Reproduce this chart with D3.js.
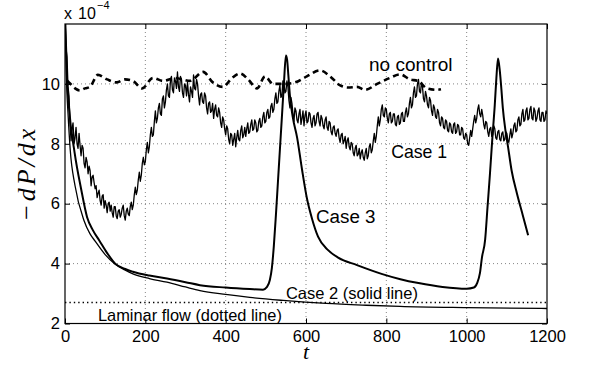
<!DOCTYPE html>
<html>
<head>
<meta charset="utf-8">
<script src="https://cdn.jsdelivr.net/npm/d3@7/dist/d3.min.js"></script>
<style>
  body { margin: 0; background: #fff; }
  svg text { font-family: "Liberation Sans", Arial, sans-serif; fill: #000; }
</style>
</head>
<body>
<div id="chart"></div>
<script>
// tick values
const xTicks = [0, 200, 400, 600, 800, 1000, 1200];
const yTicks = [2, 4, 6, 8, 10];
const gridX = [200, 400, 600, 800, 1000];
const gridY = [4, 6, 8, 10];

// laminar flow level (dotted)
const laminar = 2.7;

// no control (dashed), [t, value]
const noControl = [
  [5, 10.1], [10, 10.05], [25, 9.85], [37, 9.78], [50, 9.85], [62, 9.9], [82, 10.3],
  [105, 10.15], [129, 10.05], [149, 10.15], [169, 10.1], [192, 9.85], [219, 10.2],
  [244, 10.1], [274, 10.2], [311, 10.1], [344, 10.4], [368, 10.05], [393, 9.9],
  [416, 10.2], [436, 10.35], [456, 10.15], [478, 9.85], [498, 10.25], [518, 10.0],
  [548, 10.0], [573, 10.05], [602, 10.25], [635, 10.45], [660, 10.25], [685, 9.95],
  [705, 9.88], [727, 9.9], [747, 9.8], [777, 10.0], [809, 10.2], [834, 10.32],
  [859, 10.15], [879, 10.1], [901, 9.85], [926, 9.8], [936, 9.82]
];

// case 1 (noisy), sampled every 2.5 time units from t = 0
const case1Step = 2.5;
const case1 = [
  12.3, 11.2, 10.9, 9.9, 9.6, 8.7, 8.1, 8.5, 8.7, 8.0, 8.2, 8.55, 8.0, 7.85, 8.35, 7.95, 7.6, 7.95, 7.85, 7.35,
  7.2, 7.55, 7.4, 7.0, 7.25, 7.1, 6.6, 6.9, 6.95, 6.7, 6.5, 6.6, 6.2, 6.35, 6.45, 6.1, 5.95, 6.25, 6.3, 5.85,
  6.1, 5.95, 5.7, 6.0, 6.05, 5.75, 5.95, 5.7, 5.55, 5.9, 5.9, 5.6, 5.5, 5.75, 5.8, 5.55, 5.65, 5.85, 5.95, 5.6,
  5.45, 5.75, 5.85, 5.65, 5.6, 5.9, 6.05, 5.8, 5.95, 6.3, 6.55, 6.3, 6.45, 6.8, 7.05, 6.75, 6.95, 7.35, 7.55, 7.3,
  7.4, 7.8, 8.05, 7.7, 7.9, 8.3, 8.55, 8.25, 8.3, 8.75, 9.1, 8.7, 8.85, 9.2, 9.35, 9.0, 8.95, 9.5, 9.6, 9.2,
  9.4, 9.8, 10.0, 9.6, 9.55, 10.1, 10.25, 9.8, 9.7, 10.2, 10.1, 9.85, 10.4, 9.9, 9.75, 10.25, 10.15, 9.7, 9.55, 10.0,
  9.95, 9.6, 10.05, 9.65, 9.4, 9.9, 9.75, 9.55, 10.3, 9.85, 9.8, 10.15, 10.0, 9.6, 9.3, 9.65, 9.7, 9.4, 9.35, 9.7,
  9.6, 9.2, 9.0, 9.35, 9.4, 9.05, 9.1, 9.35, 8.85, 9.15, 9.3, 8.95, 8.9, 9.2, 9.05, 8.7, 8.55, 8.9, 8.8, 8.5,
  8.3, 8.6, 8.5, 8.15, 8.0, 8.35, 8.3, 7.95, 8.15, 8.35, 7.9, 8.2, 8.45, 8.15, 8.1, 8.45, 8.6, 8.2, 8.3, 8.55,
  8.25, 8.5, 8.7, 8.35, 8.4, 8.65, 8.8, 8.45, 8.5, 8.8, 8.7, 8.4, 8.45, 8.75, 8.85, 8.55, 8.6, 8.9, 9.05, 8.7,
  8.75, 9.05, 9.15, 8.85, 8.9, 9.25, 9.35, 9.05, 9.15, 9.5, 9.7, 9.35, 9.4, 9.75, 9.95, 9.55, 9.6, 10.1, 10.05, 9.7,
  9.75, 10.1, 9.9, 9.45, 9.2, 9.55, 9.35, 9.0, 8.75, 9.2, 9.1, 8.8, 8.7, 9.0, 9.15, 8.65, 8.85, 9.1, 8.6, 8.95,
  9.1, 8.7, 8.75, 9.05, 9.0, 8.7, 8.55, 8.85, 8.95, 8.6, 8.7, 9.0, 9.05, 8.75, 8.6, 8.95, 8.85, 8.6, 8.5, 8.8,
  8.9, 8.55, 8.45, 8.75, 8.7, 8.4, 8.3, 8.55, 8.6, 8.35, 8.25, 8.45, 8.5, 8.2, 8.05, 8.3, 8.35, 8.0, 8.1, 8.25,
  7.85, 8.1, 8.2, 7.9, 7.8, 8.05, 8.0, 7.7, 7.6, 7.85, 7.95, 7.6, 7.65, 7.85, 7.5, 7.7, 7.8, 7.55, 7.45, 7.7,
  7.85, 7.5, 7.6, 7.9, 8.0, 7.7, 7.8, 8.1, 8.35, 8.05, 8.25, 8.6, 8.9, 8.6, 8.8, 9.15, 9.3, 8.95, 8.9, 9.2,
  9.15, 8.85, 8.7, 9.0, 9.05, 8.7, 8.75, 9.0, 9.0, 8.65, 8.6, 8.9, 8.95, 8.65, 8.7, 9.0, 9.05, 8.75, 8.75, 9.05,
  9.2, 8.9, 9.0, 9.35, 9.55, 9.2, 9.3, 9.7, 9.9, 9.55, 9.6, 10.0, 10.15, 9.75, 9.7, 10.05, 9.9, 9.5, 9.4, 9.75,
  9.6, 9.3, 9.2, 9.55, 9.45, 9.1, 8.95, 9.3, 9.2, 8.9, 8.85, 9.15, 9.05, 8.7, 8.6, 8.9, 8.85, 8.55, 8.5, 8.8,
  8.75, 8.45, 8.4, 8.7, 8.65, 8.4, 8.35, 8.65, 8.7, 8.35, 8.4, 8.65, 8.6, 8.3, 8.3, 8.55, 8.5, 8.2, 8.15, 8.35,
  8.3, 8.0, 7.95, 8.2, 8.45, 8.25, 8.5, 8.75, 8.95, 8.7, 8.85, 9.15, 9.3, 9.0, 8.9, 9.15, 8.95, 8.65, 8.5, 8.75,
  8.7, 8.4, 8.25, 8.5, 8.55, 8.25, 8.3, 8.6, 8.5, 8.2, 8.15, 8.4, 8.45, 8.15, 8.1, 8.35, 8.4, 8.1, 8.15, 8.4,
  8.35, 8.1, 8.05, 8.3, 8.5, 8.2, 8.35, 8.6, 8.7, 8.4, 8.45, 8.8, 8.9, 8.6, 8.65, 9.0, 9.15, 8.75, 8.8, 9.1,
  9.2, 8.8, 8.85, 9.15, 9.25, 8.85, 8.8, 9.2, 9.1, 8.75, 8.85, 9.1, 9.2, 8.8, 8.75, 9.05, 9.05, 8.75, 8.8, 9.1,
  9.0
];

// case 2 (smooth, thin), [t, value]
const case2 = [
  [0, 12.4], [4, 10.0], [8, 8.9], [13, 7.8], [25, 6.6], [47, 5.45], [62, 5.0],
  [75, 4.75], [100, 4.3], [125, 3.98], [150, 3.78], [169, 3.66], [210, 3.5],
  [254, 3.38], [300, 3.22], [336, 3.1], [400, 2.97], [460, 2.87], [543, 2.77],
  [650, 2.67], [750, 2.61], [834, 2.57], [1000, 2.53], [1200, 2.5]
];

// case 3 (smooth, with bursts), [t, value]
const case3 = [
  [0, 12.4], [5, 10.2], [10, 9.2], [24, 7.7], [40, 6.5], [55, 5.55], [70, 5.1],
  [85, 4.78], [105, 4.35], [125, 4.0], [150, 3.82], [169, 3.73], [210, 3.6],
  [254, 3.5], [300, 3.38], [336, 3.28], [400, 3.2], [460, 3.15], [493, 3.13],
  [503, 3.22], [510, 3.45], [515, 3.85], [520, 4.6], [525, 5.6], [530, 6.7],
  [535, 7.8], [540, 8.9], [545, 10.0], [550, 10.95], [553, 10.8], [556, 10.3],
  [560, 9.6], [567, 8.9], [578, 8.2], [590, 7.15], [602, 6.2], [615, 5.5],
  [630, 4.9], [655, 4.45], [680, 4.2], [727, 3.95], [790, 3.65], [835, 3.48],
  [880, 3.35], [940, 3.22], [1000, 3.16], [1018, 3.2], [1026, 3.35], [1033, 3.68],
  [1038, 4.2], [1046, 4.8], [1052, 5.9], [1058, 7.0], [1064, 8.2], [1070, 9.3],
  [1074, 10.2], [1078, 10.85], [1082, 10.5], [1086, 9.9], [1090, 9.2],
  [1096, 8.5], [1103, 7.9], [1112, 7.1], [1125, 6.35], [1140, 5.6], [1153, 4.95]
];

// annotation texts, anchored at [t, value] (text start, baseline)
const notes = [
  { text: 'no control', t: 757, v: 10.43, size: 19 },
  { text: 'Case 1', t: 812, v: 7.53, size: 17.7 },
  { text: 'Case 3', t: 625, v: 5.36, size: 18.8 },
  { text: 'Case 2 (solid line)', t: 550, v: 2.82, size: 16.5 },
  { text: 'Laminar flow (dotted line)', t: 82, v: 2.08, size: 16.4 }
];

const W = 591, H = 365;
const margin = { top: 24, right: 44, bottom: 41.5, left: 65 };
const width = W - margin.left - margin.right;
const height = H - margin.top - margin.bottom;

const x = d3.scaleLinear().domain([0, 1200]).range([0, width]);
const y = d3.scaleLinear().domain([2, 12]).range([height, 0]);

const svg = d3.select('#chart')
  .append('svg')
  .attr('width', W)
  .attr('height', H);

const g = svg.append('g')
  .attr('transform', `translate(${margin.left}, ${margin.top})`);

g.append('clipPath').attr('id', 'clip')
  .append('rect').attr('width', width).attr('height', height);

// grid
g.append('g').selectAll('line').data(gridX).join('line')
  .attr('x1', d => x(d)).attr('x2', d => x(d))
  .attr('y1', 0).attr('y2', height)
  .attr('stroke', '#666').attr('stroke-width', 0.8)
  .attr('stroke-dasharray', '1,3');
g.append('g').selectAll('line').data(gridY).join('line')
  .attr('x1', 0).attr('x2', width)
  .attr('y1', d => y(d)).attr('y2', d => y(d))
  .attr('stroke', '#666').attr('stroke-width', 0.8)
  .attr('stroke-dasharray', '1,3');

const plot = g.append('g').attr('clip-path', 'url(#clip)');

// laminar flow
plot.append('line')
  .attr('x1', 0).attr('x2', width)
  .attr('y1', y(laminar)).attr('y2', y(laminar))
  .attr('stroke', '#000').attr('stroke-width', 1.6)
  .attr('stroke-dasharray', '1.4,3');

const smooth = d3.line()
  .x(d => x(d[0]))
  .y(d => y(d[1]))
  .curve(d3.curveMonotoneX);

plot.append('path').datum(case2)
  .attr('fill', 'none').attr('stroke', '#000').attr('stroke-width', 1.3)
  .attr('d', smooth);

plot.append('path').datum(case3)
  .attr('fill', 'none').attr('stroke', '#000').attr('stroke-width', 2)
  .attr('d', smooth);

const noisy = d3.line()
  .x((d, i) => x(i * case1Step))
  .y(d => y(d));

plot.append('path').datum(case1)
  .attr('fill', 'none').attr('stroke', '#000').attr('stroke-width', 1.3)
  .attr('stroke-linejoin', 'round')
  .attr('d', noisy);

plot.append('path').datum(noControl)
  .attr('fill', 'none').attr('stroke', '#000').attr('stroke-width', 2.6)
  .attr('stroke-dasharray', '6,4')
  .attr('d', smooth);

// axes, ticks pointing inward
const axFont = 16.5;
const fmt = d3.format('d');
const bottom = g.append('g')
  .attr('transform', `translate(0, ${height})`)
  .call(d3.axisBottom(x).tickValues(xTicks).tickFormat(fmt).tickSizeInner(-5).tickSizeOuter(0).tickPadding(7));
const left = g.append('g')
  .call(d3.axisLeft(y).tickValues(yTicks).tickFormat(fmt).tickSizeInner(-5).tickSizeOuter(0).tickPadding(5));
g.append('g')
  .call(d3.axisTop(x).tickValues(xTicks).tickSizeInner(-5).tickSizeOuter(0).tickFormat(''));
g.append('g')
  .attr('transform', `translate(${width}, 0)`)
  .call(d3.axisRight(y).tickValues(yTicks).tickSizeInner(-5).tickSizeOuter(0).tickFormat(''));

g.selectAll('.domain').remove();
g.selectAll('.tick line').attr('stroke', '#000').attr('stroke-width', 1);
[bottom, left].forEach(a => a.selectAll('text')
  .attr('font-size', axFont)
  .attr('font-family', '"Liberation Sans", Arial, sans-serif'));

// box
g.append('rect')
  .attr('width', width).attr('height', height)
  .attr('fill', 'none').attr('stroke', '#000').attr('stroke-width', 1.2);

// annotations
g.append('g').selectAll('text').data(notes).join('text')
  .attr('x', d => x(d.t))
  .attr('y', d => y(d.v))
  .attr('font-size', d => d.size)
  .text(d => d.text);

// exponent label
svg.append('text').attr('x', 64).attr('y', 19).attr('font-size', 16).text('x');
svg.append('text').attr('x', 78).attr('y', 19).attr('font-size', 16).text('10');
svg.append('text').attr('x', 97).attr('y', 9).attr('font-size', 11).text('\u22124');

// axis titles
svg.append('text')
  .attr('transform', `translate(35, ${margin.top + height / 2}) rotate(-90)`)
  .attr('text-anchor', 'middle')
  .style('font-family', '"Liberation Serif", "DejaVu Serif", serif')
  .style('font-style', 'italic')
  .attr('font-size', 26)
  .attr('letter-spacing', 3)
  .text('\u2212dP/dx');

svg.append('text')
  .attr('x', margin.left + x(600))
  .attr('y', 359)
  .attr('text-anchor', 'middle')
  .style('font-family', '"Liberation Serif", "DejaVu Serif", serif')
  .style('font-style', 'italic')
  .attr('font-size', 22)
  .text('t');
</script>
</body>
</html>
